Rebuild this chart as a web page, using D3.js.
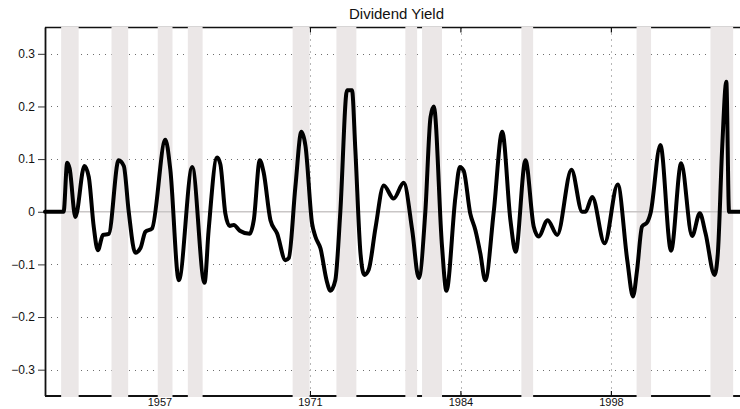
<!DOCTYPE html>
<html>
<head>
<meta charset="utf-8">
<script src="https://cdn.jsdelivr.net/npm/d3@7"></script>
<style>
  html, body { margin: 0; padding: 0; background: #fff; }
  svg { display: block; font-family: "Liberation Sans", Arial, Helvetica, sans-serif; }
</style>
</head>
<body>
<svg id="chart" width="740" height="409"></svg>
<script>
// Cyclical component of the dividend yield, quarterly (index 1 = 1947Q1).
const knotQuarter = [0, 6.8, 8.1, 9.0, 11.1, 14.4, 16.0, 17.8, 19.3, 21.2, 23.3, 26.9, 28.8, 30.6, 33.0, 34.9, 36.7, 39.1,
  44.0, 45.8, 48.9, 53.8, 58.3, 59.8, 62.9, 64.1, 65.9, 67.5, 69.0, 71.2, 74.8, 76.3, 78.5, 79.9, 82.4, 84.8, 87.9, 89.1,
  91.5, 93.7, 95.2, 97.6, 98.8, 100.7, 102.9, 104.3, 106.1, 107.9, 110.4, 112.2, 113.4, 115.3, 116.7, 118.3, 120.8,
  123.8, 127.4, 131.1, 134.2, 136.6, 139.0, 140.9, 142.1, 145.1, 146.7, 150.0, 151.6, 153.0, 155.4, 157.3, 159.1,
  160.9, 164.0, 167.1, 170.1, 172.0, 175.6, 178.6, 180.4, 183.7, 187.2, 192.4, 196.3, 197.5, 200.0, 204.5, 209.3,
  212.8, 214.9, 216.4, 218.2, 220.1, 221.3, 224.9, 228.8, 232.5, 236.5, 239.3, 241.4, 244.7, 245.9, 247.5, 249.0,
  250.0, 254];
const dividendYield = [0, 0, 0.093, 0.082, -0.010, 0.087, 0.066, -0.028, -0.073, -0.044, -0.042, 0.098, 0.087, 0.000,
  -0.078, -0.069, -0.038, -0.032, 0.137, 0.080, -0.130, 0.085, -0.135, -0.035, 0.103, 0.090, -0.003, -0.027, -0.025,
  -0.036, -0.042, -0.016, 0.098, 0.075, -0.016, -0.041, -0.092, -0.088, 0.047, 0.152, 0.125, -0.022, -0.047, -0.070,
  -0.130, -0.150, -0.130, -0.003, 0.231, 0.231, 0.120, -0.079, -0.120, -0.110, -0.030, 0.050, 0.025, 0.055, -0.035,
  -0.126, 0.000, 0.180, 0.200, -0.066, -0.150, 0.028, 0.085, 0.078, -0.003, -0.035, -0.079, -0.130, 0.000, 0.152,
  -0.016, -0.076, 0.098, -0.028, -0.047, -0.016, -0.044, 0.080, 0.000, 0.000, 0.028, -0.060, 0.052, -0.092, -0.161,
  -0.110, -0.028, -0.020, -0.003, 0.127, -0.074, 0.092, -0.046, -0.003, -0.041, -0.120, -0.079, 0.123, 0.247,
  0, 0];

// Recession periods (quarter index, start and end of shaded band).
const recessionStart = [5.9, 24.3, 41.2, 52.2, 90.5, 106.5, 131.7, 137.8, 174.1, 216.2, 243.2];
const recessionEnd   = [12.3, 30.4, 46.6, 57.6, 96.7, 113.8, 136.0, 145.1, 178.4, 221.5, 251.5];

// Axis ticks.
const xTickQuarters = [42, 97, 152, 207];
const xTickLabels = ["1957", "1971", "1984", "1998"];
const yTickValues = [-0.3, -0.2, -0.1, 0, 0.1, 0.2, 0.3];
const yTickLabels = ["\u22120.3", "\u22120.2", "\u22120.1", "0", "0.1", "0.2", "0.3"];

const chartTitle = "Dividend Yield";

const svg = d3.select("#chart");
const plotLeft = 45, plotRight = 740, plotTop = 27.5, plotBottom = 396;

const x = d3.scaleLinear().domain([0, 254]).range([plotLeft, plotRight]);
const y = d3.scaleLinear().domain([-0.35, 0.35]).range([plotBottom, plotTop]);

// Dotted grid
const grid = svg.append("g").attr("stroke", "#6e6e6e").attr("stroke-width", 1).attr("stroke-dasharray", "1,5");
grid.selectAll("line.h").data(yTickValues.filter(v => v !== 0)).join("line")
  .attr("class", "h")
  .attr("x1", plotLeft).attr("x2", plotRight)
  .attr("y1", d => Math.round(y(d)) + 0.5).attr("y2", d => Math.round(y(d)) + 0.5);
grid.selectAll("line.v").data(xTickQuarters).join("line")
  .attr("class", "v")
  .attr("x1", d => Math.round(x(d)) + 0.5).attr("x2", d => Math.round(x(d)) + 0.5)
  .attr("y1", plotTop).attr("y2", plotBottom);

// Axes box: top and bottom edges, inward ticks along x
const frame = svg.append("g").attr("stroke", "#111").attr("fill", "none");
frame.append("line").attr("x1", plotLeft).attr("x2", plotRight).attr("y1", plotTop).attr("y2", plotTop).attr("stroke-width", 1.3);
frame.append("line").attr("x1", plotLeft).attr("x2", plotRight).attr("y1", plotBottom).attr("y2", plotBottom).attr("stroke-width", 1.8);
frame.selectAll("line.xt").data(xTickQuarters).join("line")
  .attr("class", "xt")
  .attr("x1", d => x(d)).attr("x2", d => x(d))
  .attr("y1", plotBottom).attr("y2", plotBottom - 5).attr("stroke-width", 1.2);
frame.selectAll("line.xtt").data(xTickQuarters).join("line")
  .attr("class", "xtt")
  .attr("x1", d => x(d)).attr("x2", d => x(d))
  .attr("y1", plotTop).attr("y2", plotTop + 5).attr("stroke-width", 1.2);

// Recession shading
svg.append("g").selectAll("rect").data(recessionStart).join("rect")
  .attr("x", d => x(d))
  .attr("width", (d, i) => x(recessionEnd[i]) - x(d))
  .attr("y", plotTop - 1)
  .attr("height", plotBottom - plotTop + 2)
  .attr("fill", "#ebe7e7");

// Left axis with outward ticks
const yAxis = d3.axisLeft(y).tickValues(yTickValues).tickSize(7).tickPadding(3)
  .tickFormat((d, i) => yTickLabels[i]);
const gy = svg.append("g").attr("transform", `translate(${plotLeft},0)`).call(yAxis);
gy.select(".domain").attr("stroke", "#111").attr("stroke-width", 1.8).attr("d", `M0.5,${plotTop}V${plotBottom}`);
gy.selectAll(".tick line").attr("stroke", "#333").attr("stroke-width", 1);
gy.selectAll(".tick text").attr("fill", "#111").attr("font-size", 12)
  .attr("font-family", "'Liberation Sans', Arial, Helvetica, sans-serif");

// Bottom tick labels
svg.append("g").selectAll("text").data(xTickQuarters).join("text")
  .attr("x", d => x(d)).attr("y", 406)
  .attr("text-anchor", "middle").attr("font-size", 11).attr("fill", "#111")
  .text((d, i) => xTickLabels[i]);

// Zero reference line
svg.append("line")
  .attr("x1", plotLeft).attr("x2", plotRight)
  .attr("y1", y(0)).attr("y2", y(0))
  .attr("stroke", "#c9c6c6").attr("stroke-width", 1.4);

// Series
const series = knotQuarter.map((q, i) => [q, dividendYield[i]]);
svg.append("path")
  .datum(series)
  .attr("fill", "none")
  .attr("stroke", "#000")
  .attr("stroke-width", 4)
  .attr("stroke-linejoin", "round")
  .attr("stroke-linecap", "round")
  .attr("d", d3.line().x(d => x(d[0])).y(d => y(d[1])).curve(d3.curveMonotoneX));

// Title
svg.append("text")
  .attr("x", (plotLeft + plotRight) / 2 + 4).attr("y", 19)
  .attr("text-anchor", "middle").attr("font-size", 15).attr("fill", "#111")
  .text(chartTitle);
</script>
</body>
</html>
